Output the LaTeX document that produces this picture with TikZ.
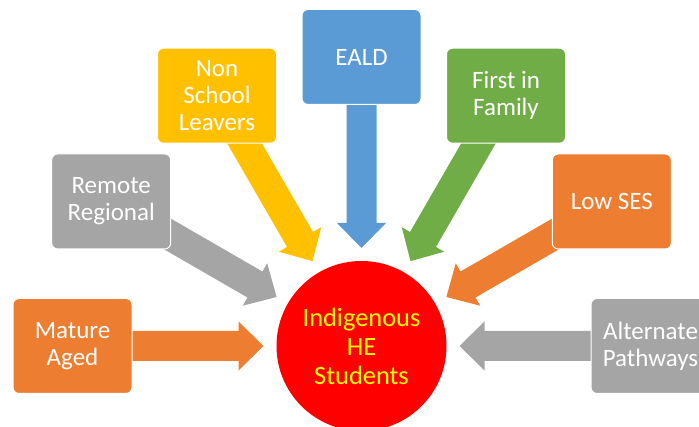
\documentclass[tikz,border=0pt]{standalone}
\usepackage{fontspec}
\setmainfont{Carlito}
\usetikzlibrary{calc}
\definecolor{cOrange}{HTML}{ED7D31}
\definecolor{cGray}{HTML}{A5A5A5}
\definecolor{cYellow}{HTML}{FFC000}
\definecolor{cBlue}{HTML}{5B9BD5}
\definecolor{cGreen}{HTML}{70AD47}
\definecolor{cRed}{HTML}{FF0000}
\definecolor{cText}{HTML}{FFFF00}
\pgfdeclarelayer{bg}
\pgfsetlayers{bg,main}
% block arrow from box #1 towards the circle C, colour #2
\newcommand\blockarr[2]{%
  \begin{pgfonlayer}{bg}
    \coordinate (t#1) at ($(C)!98pt!(#1)$);
    \coordinate (h#1) at ($(C)!123pt!(#1)$);
    \fill[#2] (t#1)
      -- ($(h#1)!24.5pt!90:(C)$)
      -- ($(h#1)!15pt!90:(C)$)
      -- ($(#1)!15pt!90:(C)$)
      -- ($(#1)!15pt!-90:(C)$)
      -- ($(h#1)!15pt!-90:(C)$)
      -- ($(h#1)!24.5pt!-90:(C)$)
      -- cycle;
  \end{pgfonlayer}}
\begin{document}
\begin{tikzpicture}[x=1pt,y=1pt,
  box/.style={rectangle, rounded corners=6pt, minimum width=119pt,
    minimum height=95pt, draw=white, line width=1pt, text=white,
    align=center, inner sep=0pt, font=\fontsize{25}{27}\selectfont},
  hub/.style={circle, fill=cRed, minimum size=170pt, inner sep=0pt,
    text=cText, align=center, font=\fontsize{26.4}{29}\selectfont}]
\useasboundingbox (0,0) rectangle (699,427);
\node[hub] (C) at (361.5,81) {Indigenous\\HE\\Students};
\node[box, fill=cOrange] (ma) at ($(C)+(180:289)$) {Mature\\Aged};
\node[box, fill=cGray]   (rr) at ($(C)+(150:289)$) {Remote\\Regional};
\node[box, fill=cYellow] (ns) at ($(C)+(120:289)$) {Non\\School\\Leavers};
\node[box, fill=cBlue]   (ea) at ($(C)+(90:289)$)  {EALD};
\node[box, fill=cGreen]  (fi) at ($(C)+(60:289)$)  {First in\\Family};
\node[box, fill=cOrange] (ls) at ($(C)+(30:289)$)  {Low SES};
\node[box, fill=cGray]   (ap) at ($(C)+(0:289)$)   {Alternate\\Pathways};
\blockarr{ma}{cOrange}
\blockarr{rr}{cGray}
\blockarr{ns}{cYellow}
\blockarr{ea}{cBlue}
\blockarr{fi}{cGreen}
\blockarr{ls}{cOrange}
\blockarr{ap}{cGray}
\end{tikzpicture}
\end{document}
